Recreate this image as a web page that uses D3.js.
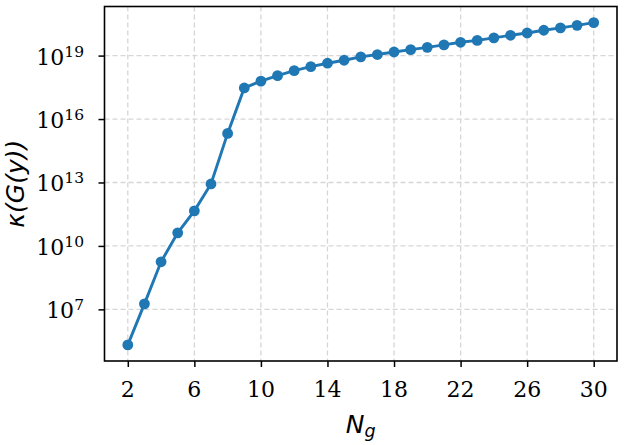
<!DOCTYPE html>
<html>
<head>
<meta charset="utf-8">
<script src="https://cdn.jsdelivr.net/npm/d3@7"></script>
<style>
  body { margin: 0; background: #fff; }
  svg text { fill: #000; }
  .tick-label { font-family: 'DejaVu Serif', 'Liberation Serif', serif; font-size: 22px; }
  .ax-label { font-family: 'DejaVu Sans', sans-serif; font-style: oblique; font-size: 25px; }
</style>
</head>
<body>
<svg id="svg" width="626" height="445"></svg>
<script>
// N_g values and log10 of the condition number kappa(G(y))
const ng = [2, 3, 4, 5, 6, 7, 8, 9, 10, 11, 12, 13, 14, 15, 16, 17, 18, 19, 20, 21, 22, 23, 24, 25, 26, 27, 28, 29, 30]
const logKappa = [5.32, 7.26, 9.25, 10.62, 11.66, 12.93, 15.32, 17.47, 17.79, 18.05, 18.29, 18.48, 18.64, 18.78,
  18.94, 19.05, 19.17, 19.28, 19.39, 19.51, 19.63, 19.72, 19.84, 19.96, 20.07, 20.20, 20.31, 20.43, 20.56]
const xTicks = [2, 6, 10, 14, 18, 22, 26, 30]
const yTickExp = [7, 10, 13, 16, 19]

let svg = d3.select('#svg')

let padL = 104.5, padR = 617, padT = 6.5, padB = 361

let xScale = d3.scaleLinear().domain([0.6, 31.4]).range([padL, padR])
let yScale = d3.scaleLog().domain([Math.pow(10, 4.558), Math.pow(10, 21.322)]).range([padB, padT])

let points = ng.map((n, i) => ({ x: n, y: Math.pow(10, logKappa[i]) }))

// grid
let grid = svg.append('g')
grid.selectAll('line.gx')
  .data(xTicks)
  .enter()
  .append('line')
  .attr('class', 'gx')
  .attr('x1', d => xScale(d)).attr('x2', d => xScale(d))
  .attr('y1', padT).attr('y2', padB)
  .attr('stroke', '#d6d6d6').attr('stroke-width', 1.3)
  .attr('stroke-dasharray', '5,3')
grid.selectAll('line.gy')
  .data(yTickExp)
  .enter()
  .append('line')
  .attr('class', 'gy')
  .attr('x1', padL).attr('x2', padR)
  .attr('y1', d => yScale(Math.pow(10, d))).attr('y2', d => yScale(Math.pow(10, d)))
  .attr('stroke', '#d6d6d6').attr('stroke-width', 1.3)
  .attr('stroke-dasharray', '5,3')

// line + markers
let line = d3.line().x(d => xScale(d.x)).y(d => yScale(d.y))
svg.append('path')
  .datum(points)
  .attr('d', line)
  .attr('fill', 'none')
  .attr('stroke', '#1f77b4')
  .attr('stroke-width', 2.9)

svg.selectAll('circle')
  .data(points)
  .enter()
  .append('circle')
  .attr('cx', d => xScale(d.x))
  .attr('cy', d => yScale(d.y))
  .attr('r', 5.4)
  .attr('fill', '#1f77b4')

// axes (ticks only, labels drawn separately)
let xAxis = d3.axisBottom(xScale).tickValues(xTicks).tickSize(6).tickFormat('')
let yAxis = d3.axisLeft(yScale).tickValues(yTickExp.map(e => Math.pow(10, e))).tickSize(6).tickFormat('')

let gx = svg.append('g').attr('transform', 'translate(0,' + padB + ')').call(xAxis)
gx.select('.domain').remove()
gx.selectAll('line').attr('stroke', '#000').attr('stroke-width', 1.5)

let gy = svg.append('g').attr('transform', 'translate(' + padL + ',0)').call(yAxis)
gy.select('.domain').remove()
gy.selectAll('line').attr('stroke', '#000').attr('stroke-width', 1.5)

svg.selectAll('text.xt')
  .data(xTicks)
  .enter()
  .append('text')
  .attr('class', 'xt tick-label')
  .attr('x', d => xScale(d))
  .attr('y', 397)
  .attr('text-anchor', 'middle')
  .text(d => d)

yTickExp.forEach(e => {
  let t = svg.append('text')
    .attr('class', 'tick-label')
    .attr('x', 84)
    .attr('y', yScale(Math.pow(10, e)) + 9)
    .attr('text-anchor', 'end')
  t.append('tspan').text('10')
  t.append('tspan').attr('dy', -8).style('font-size', '15.5px').text(e)
})

// frame
svg.append('rect')
  .attr('x', padL).attr('y', padT)
  .attr('width', padR - padL).attr('height', padB - padT)
  .attr('fill', 'none')
  .attr('stroke', '#000')
  .attr('stroke-width', 1.6)

// axis labels
let xl = svg.append('text')
  .attr('class', 'ax-label')
  .attr('x', (padL + padR) / 2)
  .attr('y', 433)
  .attr('text-anchor', 'middle')
xl.append('tspan').text('N')
xl.append('tspan').attr('dy', 4).style('font-size', '17.5px').text('g')

svg.append('text')
  .attr('class', 'ax-label')
  .attr('transform', 'translate(24,' + ((padT + padB) / 2) + ') rotate(-90)')
  .attr('text-anchor', 'middle')
  .text('κ(G(y))')
</script>
</body>
</html>
